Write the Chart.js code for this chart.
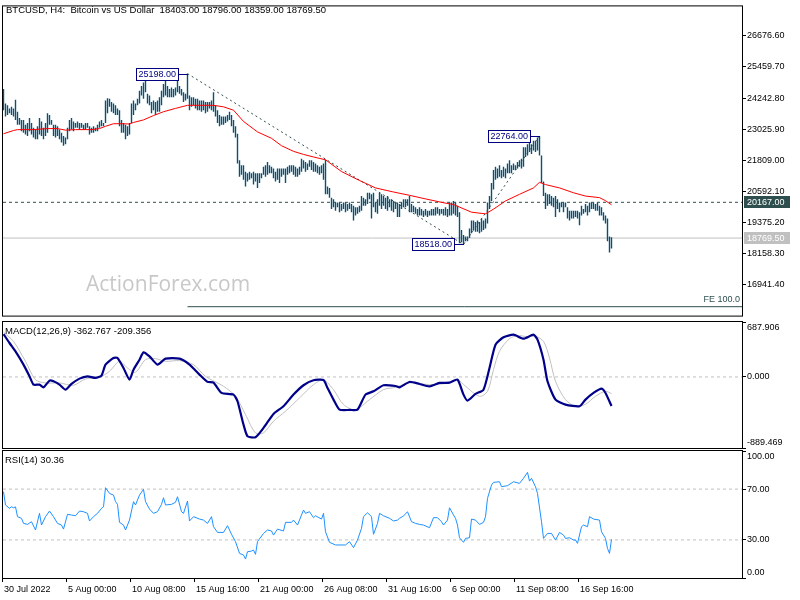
<!DOCTYPE html>
<html>
<head>
<meta charset="utf-8">
<script src="https://cdn.jsdelivr.net/npm/chart.js@4/dist/chart.umd.min.js"></script>
<style>
body { margin: 0; background: #fff; width: 800px; height: 600px; overflow: hidden; position: relative; }
canvas { position: absolute; left: 0; }
#priceCanvas { top: 0; }
#macdCanvas { top: 320px; }
#rsiCanvas { top: 449px; }
</style>
</head>
<body>
<canvas id="priceCanvas" width="800" height="322"></canvas>
<canvas id="macdCanvas" width="800" height="130"></canvas>
<canvas id="rsiCanvas" width="800" height="151"></canvas>
<script>
// BTCUSD H4 bars, index 0 = 30 Jul 2022 16:00
const barHigh = [
  24600,24030,23960,23840,23900,23840,24180,23710,23460,23390,
  23390,23200,23270,23460,23270,23080,23010,23140,23460,23330,
  23080,23270,23650,23580,23390,23200,23200,23140,23010,22890,
  22760,22700,23080,23390,23460,23330,23270,23330,23270,23270,
  23200,23270,23270,23140,23080,23140,23080,23200,23330,23390,
  23270,24150,24240,24220,24090,24030,23960,23840,23770,23390,
  23270,23200,23140,23270,24030,24150,24030,24220,24530,24720,
  24850,24920,24410,24340,24090,24150,24090,24150,24280,24530,
  24790,24920,24720,24600,24660,24600,24660,25100,24720,24600,
  24470,24410,25198,24340,24280,24280,24220,24220,24150,24150,
  24150,24090,24090,24090,24150,24470,23960,23770,23580,23520,
  23520,23520,23580,23710,23580,23390,23140,22850,21810,21620,
  21620,21360,21300,21360,21300,21360,21300,21300,21300,21300,
  21560,21620,21740,21620,21560,21490,21360,21490,21490,21490,
  21490,21490,21560,21620,21620,21620,21560,21490,21560,21870,
  21810,21740,21680,21810,21810,21740,21680,21620,21560,21620,
  21680,21830,20790,20730,20350,20290,20160,20160,20160,20100,
  20160,20160,20100,20160,20100,20030,19970,19970,20030,20410,
  20350,20290,20540,20540,20480,20540,20160,20290,20540,20480,
  20410,20350,20410,20290,20290,20220,20160,20160,20100,20160,
  20290,20290,20290,20410,20100,20030,19970,19910,19970,19910,
  19840,19910,19840,19840,19910,19910,19970,19970,19910,19910,
  19910,19970,19910,20160,20160,20220,20160,20030,19780,19080,
  18890,18830,18830,19140,19460,19460,19400,19460,19400,19530,
  19460,19530,20160,20410,20920,21430,21560,21490,21620,21430,
  21560,21490,21680,21810,21620,21680,21620,21740,21810,21870,
  22320,22320,22440,22510,22440,22570,22570,22700,22764,22000,
  20980,20540,20480,20480,20410,20350,20410,20290,20160,20160,
  20160,20160,19970,19840,19840,19840,19840,19840,19780,20030,
  19910,20100,20030,20160,20160,20160,20100,20160,20030,19970,
  19780,19650,19530,18830,18796
];
const barLow = [
  23770,23520,23580,23650,23580,23520,23390,23200,23200,22950,
  22890,22820,22760,22950,22820,22700,22630,22630,22820,22760,
  22630,22760,22890,23200,23200,22760,22700,22760,22630,22510,
  22380,22440,22630,22950,23010,22950,23080,23080,23010,23080,
  23010,23010,23080,22820,22890,22890,22950,22950,23080,23140,
  23140,23270,23650,23900,23710,23650,23580,23580,23140,22890,
  22890,22630,22760,22820,23270,23580,23770,23960,24030,24340,
  24220,24470,24030,23960,23650,23770,23580,23710,23710,23960,
  24280,24340,24280,24280,24280,24280,24340,24470,24410,24340,
  24090,24150,24220,23770,23900,23960,23840,23770,23770,23710,
  23770,23650,23710,23840,23770,23710,23520,23270,23140,23200,
  23200,23270,23330,23390,23140,22890,22700,21680,21170,21240,
  21050,20790,20980,21050,21110,20860,20980,20730,20920,21110,
  21240,21170,21240,21300,21300,21110,20980,21050,20920,21170,
  21240,20920,21240,21300,21360,21240,21170,21170,21240,21360,
  21490,21360,21430,21560,21430,21360,21360,21300,21240,21300,
  21050,20480,20480,20350,19910,19970,19840,19970,19780,19840,
  19910,19780,19840,19910,19780,19460,19650,19720,19780,19840,
  20030,20030,20100,20290,19530,19970,19780,19720,20030,19910,
  20030,19910,19840,19970,19840,19780,19910,19590,19590,19910,
  19970,19970,20030,19780,19780,19780,19720,19650,19650,19650,
  19590,19650,19590,19650,19650,19650,19650,19720,19650,19720,
  19650,19650,19590,19650,19650,19720,19650,19590,18570,18600,
  18518,18640,18640,18770,18960,19080,19020,19020,18960,19020,
  19080,19140,19340,19910,20220,20670,21050,21110,21170,21110,
  21170,21110,21300,21300,21300,21430,21430,21490,21560,21490,
  21560,21940,22000,22130,22060,22190,22130,22190,22000,20920,
  20410,19910,20030,20100,20030,19970,19590,19910,19780,19970,
  19780,19970,19530,19460,19530,19530,19590,19530,19270,19650,
  19720,19780,19650,19780,19910,19910,19840,19840,19650,19650,
  19460,19340,18640,18200,18359
];

// moving average (red)
const maIdx = [0,5,7,15,22,27,31,36,44,48,51,55,59,63,65,70,75,80,86,92,99,105,110,115,120,127,134,139,145,150,155,161,169,178,186,195,203,211,220,225,228,234,241,245,251,258,265,268,271,278,285,291,298,301,304];
const maVal = [22850,22975,23010,23010,23050,23050,22990,23010,23010,23050,23140,23240,23240,23230,23290,23390,23560,23710,23840,23960,23960,23960,23900,23770,23330,22920,22670,22380,22160,22040,21940,21830,21370,21020,20730,20570,20440,20300,20150,20080,19980,19780,19716,19900,20220,20480,20730,20950,20860,20730,20540,20410,20350,20230,20070];

// fibonacci expansion points and levels
const fibIdx = [92, 230, 268];
const fibVal = [25198, 18518, 22764];
const feLevel = 16084;
const levelLine = 20167;
const lastPrice = 18769.5;
const priceTicks = [16941.40, 18158.30, 19375.20, 20592.10, 21809.00, 23025.90, 24242.80, 25459.70, 26676.60];

// MACD(12,26,9)
const macdIdx = [0,3,6,10,13,15,18,20,23,25,28,31,34,38,42,46,49,51,55,57,60,63,65,68,70,73,77,81,88,93,98,102,105,109,115,117,120,122,126,130,135,140,145,150,155,160,162,165,168,173,177,181,185,190,196,198,203,208,213,218,223,227,230,232,236,240,243,246,250,255,260,265,267,270,272,276,281,288,291,295,299,301,304];
const macdVal = [537,425,320,154,8,-96,-96,-130,-46,-54,-96,-159,-88,-21,8,-12,17,154,237,237,112,-34,91,216,308,258,154,229,229,154,29,-62,-71,-200,-221,-304,-596,-742,-754,-638,-463,-367,-221,-104,-42,-38,-138,-284,-409,-413,-409,-221,-180,-104,-113,-130,-63,-88,-117,-75,-71,-34,-221,-296,-213,-159,112,404,496,529,479,529,467,216,-54,-284,-346,-367,-284,-200,-146,-200,-363];
const signalIdx = [0,5,11,16,21,28,35,41,48,53,58,62,66,71,76,81,88,95,101,110,116,121,126,130,135,141,148,155,160,165,170,176,183,190,196,203,213,223,227,231,238,242,245,248,253,257,262,266,270,273,276,281,286,291,296,301,304];
const signalVal = [560,445,195,-34,-75,-75,-104,-25,-4,71,196,112,60,216,229,196,204,154,8,-117,-242,-471,-700,-700,-554,-429,-263,-96,-38,-159,-346,-409,-284,-159,-130,-71,-96,-75,-34,-117,-242,-179,92,321,479,517,504,508,446,237,-54,-284,-367,-342,-242,-180,-209];
const macdTicks = [687.906, 0, -889.469];

// RSI(14)
const rsiIdx = [0,1,3,4,5,6,7,9,10,12,14,16,18,19,21,23,25,27,29,30,32,34,36,38,40,42,43,45,47,49,50,51,53,55,56,57,58,60,61,63,65,66,68,70,71,73,75,77,79,80,81,84,86,87,89,90,92,93,95,98,100,102,104,105,107,110,112,114,116,118,120,121,122,124,125,126,127,130,132,134,135,137,140,141,144,145,147,150,151,153,155,156,159,160,161,163,166,171,173,175,177,179,180,182,184,185,187,188,190,193,195,197,198,200,202,204,206,208,210,213,215,217,219,220,222,223,225,226,227,228,230,231,233,234,236,238,240,241,242,244,245,248,249,252,255,258,260,262,263,264,266,267,269,270,272,274,276,278,280,281,283,285,286,287,289,290,292,293,295,298,299,301,302,303,304];
const rsiVal = [68,57.5,54.8,56.1,55.3,56,48.3,47,43,42.2,44.3,37.8,50.9,41.7,48.3,52.7,48.3,43,41.7,38.5,50.1,49.6,49,52.7,52.2,50.9,44.9,48.3,50.9,54.8,56.1,71.1,66.6,65.3,60.1,58,43.8,41.7,37.8,45.6,60.1,57.5,65.3,69.8,60.1,54.3,50.9,52.2,58,63.2,57.5,58,59.6,64,52.2,50.9,60.6,44.9,48.3,46.4,45.6,43,48.3,40.4,35.9,35.9,41.2,34.4,28.6,19.4,18.1,14.9,20.7,21.2,22,18.6,28.6,35.1,37.8,37,33.8,38.5,37,43.8,43.8,45.6,41.7,53.5,50.9,52.2,47.5,49,46.4,50.9,36.4,28.1,26,26,28.6,23.9,29.9,39.1,48.3,51.4,48.3,34.4,43,50.9,49,47,44.9,45.6,47,48.8,52.2,44.3,43,42.2,41.7,39.6,47.5,47.5,44.3,41.7,45.6,55.3,49.6,47,41.7,31.7,28.1,31.2,31.7,46.4,45.6,42.2,43.8,48.3,62.7,73.2,75.3,75.8,71.9,72.7,75.8,74.5,78.5,83.2,76.3,78.5,71.9,66.6,44.3,31.2,35.1,35.1,29.9,35.9,33.8,31.2,31.7,29.9,29.9,27.3,40.4,41.7,40.4,48.3,46.4,45.6,36.4,31.2,23.3,19.4,30.36];
const rsiTicks = [100, 70, 30, 0];
const rsiLevels = [70, 30];

// time axis
const dateTickIdx = [0, 32, 64, 96, 128, 160, 192, 224, 256, 288];
const dateTickLabels = ['30 Jul 2022', '5 Aug 00:00', '10 Aug 08:00', '15 Aug 16:00', '21 Aug 00:00', '26 Aug 08:00', '31 Aug 16:00', '6 Sep 00:00', '11 Sep 08:00', '16 Sep 16:00'];

const X_MIN = -0.25, X_MAX = 369.25;
const FONT = 'Liberation Sans';
Chart.defaults.font.family = FONT;
Chart.defaults.font.size = 9;
Chart.defaults.color = '#000';

const pts = (xs, ys) => xs.map((x, k) => ({ x: x, y: ys[k] }));
const hline = v => [{ x: X_MIN, y: v }, { x: X_MAX, y: v }];

// black frame around each panel
const framePlugin = {
  id: 'frame',
  afterDraw(chart) {
    const a = chart.chartArea, c = chart.ctx;
    c.save();
    c.strokeStyle = '#000';
    c.lineWidth = 1;
    c.strokeRect(a.left - 0.5, a.top - 0.5, a.right - a.left + 1, a.bottom - a.top + 1);
    c.restore();
  }
};

function xHidden() {
  return { type: 'linear', min: X_MIN, max: X_MAX, offset: false, display: false };
}

function yRight(min, max, extra) {
  return Object.assign({
    type: 'linear', position: 'right', min: min, max: max,
    grid: { drawOnChartArea: false, color: '#000', tickLength: 4 },
    border: { display: false },
    afterFit: s => { s.width = 58; }
  }, extra);
}

const baseOpts = {
  responsive: false,
  animation: false,
  events: [],
  plugins: { legend: { display: false }, tooltip: { enabled: false } }
};

// ---------- price panel ----------
const pricePlugin = {
  id: 'priceExtras',
  beforeDatasetsDraw(chart) {
    const c = chart.ctx;
    c.save();
    c.font = '21px "Open Sans"';
    c.fillStyle = '#c8c8c8';
    c.textBaseline = 'alphabetic';
    c.fillText('ActionForex.com', 86, 291);
    c.restore();
  },
  afterDraw(chart) {
    const c = chart.ctx, xs = chart.scales.x, ys = chart.scales.y;
    c.save();
    c.font = '9.5px ' + FONT;
    c.textBaseline = 'middle';
    c.fillStyle = '#000';
    c.fillText('BTCUSD, H4:  Bitcoin vs US Dollar  18403.00 18796.00 18359.00 18769.50', 6, 10);

    // swing labels
    c.font = '9px ' + FONT;
    fibIdx.forEach((i, k) => {
      const px = Math.round(xs.getPixelForValue(i));
      const py = Math.round(ys.getPixelForValue(fibVal[k])) + 0.5;
      const txt = fibVal[k].toFixed(2);
      const w = Math.round(c.measureText(txt).width) + 4, h = 12;
      const bx = px - 10 - w;
      c.fillStyle = '#fff';
      c.fillRect(bx, py - h / 2, w, h);
      c.strokeStyle = '#000080';
      c.lineWidth = 1;
      c.strokeRect(bx + 0.5, py - h / 2, w, h);
      c.beginPath();
      c.moveTo(bx + w, py);
      c.lineTo(px, py);
      c.stroke();
      c.fillStyle = '#000080';
      c.fillText(txt, bx + 2.5, py + 0.5);
    });

    // FE label
    c.fillStyle = '#2f4f4f';
    c.textAlign = 'right';
    c.fillText('FE 100.0', chart.chartArea.right - 2, ys.getPixelForValue(feLevel) - 7);
    c.textAlign = 'left';

    // price boxes on the axis
    [[levelLine, '#2f4f4f'], [lastPrice, '#c0c0c0']].forEach(([v, bg]) => {
      const py = Math.round(ys.getPixelForValue(v));
      c.fillStyle = bg;
      c.fillRect(744, py - 6, 46, 12);
      c.fillStyle = '#fff';
      c.fillText(v.toFixed(2), 747, py + 0.5);
    });
    c.restore();
  }
};

new Chart(document.getElementById('priceCanvas'), {
  type: 'bar',
  data: {
    datasets: [
      { type: 'line', data: pts(maIdx, maVal), borderColor: '#ff0000', borderWidth: 1, pointRadius: 0, order: 0 },
      { type: 'line', data: pts(fibIdx, fibVal), borderColor: '#2f4f4f', borderWidth: 1, borderDash: [2, 3], pointRadius: 0, order: 1 },
      { type: 'bar', data: barHigh.map((h, i) => ({ x: i, y: [barLow[i], h] })), backgroundColor: '#0a4f75', barThickness: 1.4, borderWidth: 0, inflateAmount: 0, order: 2 },
      { type: 'line', data: hline(levelLine), borderColor: '#2f4f4f', borderWidth: 1, borderDash: [3, 3], pointRadius: 0, order: 3 },
      { type: 'line', data: hline(lastPrice), borderColor: '#c0c0c0', borderWidth: 1, pointRadius: 0, order: 3 },
      { type: 'line', data: [{ x: fibIdx[0], y: feLevel }, { x: X_MAX, y: feLevel }], borderColor: '#2f4f4f', borderWidth: 1, pointRadius: 0, order: 3 }
    ]
  },
  options: Object.assign({}, baseOpts, {
    layout: { padding: { left: 3, top: 2, right: 0, bottom: 2 } },
    scales: {
      x: xHidden(),
      y: yRight(15736, 27829, {
        afterBuildTicks: s => { s.ticks = priceTicks.map(v => ({ value: v })); },
        ticks: { padding: 1, callback: v => v.toFixed(2) }
      })
    }
  }),
  plugins: [framePlugin, pricePlugin]
});

// sub-window tick labels (top label sits below the edge, bottom label above)
function subLabels(id, title, values, decimals) {
  return {
    id: id,
    afterDraw(chart) {
      const c = chart.ctx, s = chart.scales.y, a = chart.chartArea;
      c.save();
      c.fillStyle = '#000';
      c.textBaseline = 'middle';
      c.font = '9.5px ' + FONT;
      c.fillText(title, 5, a.top + 9);
      c.font = '9px ' + FONT;
      values.forEach(v => {
        let y = s.getPixelForValue(v);
        if (v === s.max) y += 6;
        else if (v === s.min) y -= 5;
        c.fillText(v.toFixed(decimals), 747, y);
      });
      c.restore();
    }
  };
}

// ---------- MACD panel ----------
new Chart(document.getElementById('macdCanvas'), {
  type: 'line',
  data: {
    datasets: [
      { data: pts(macdIdx, macdVal), borderColor: '#00008b', borderWidth: 2.2, pointRadius: 0, tension: 0.2, order: 0 },
      { data: pts(signalIdx, signalVal), borderColor: '#c0c0c0', borderWidth: 1, pointRadius: 0, tension: 0.3, order: 1 },
      { data: hline(0), borderColor: '#c0c0c0', borderWidth: 1, borderDash: [3, 3], pointRadius: 0, order: 2 }
    ]
  },
  options: Object.assign({}, baseOpts, {
    layout: { padding: { left: 3, top: 2, right: 0, bottom: 2 } },
    scales: {
      x: xHidden(),
      y: yRight(macdTicks[2], macdTicks[0], {
        afterBuildTicks: s => { s.ticks = macdTicks.map(v => ({ value: v })); },
        ticks: { display: false }
      })
    }
  }),
  plugins: [framePlugin, subLabels('macdLabels', 'MACD(12,26,9) -362.767 -209.356', macdTicks, 3)]
});

// ---------- RSI panel ----------
new Chart(document.getElementById('rsiCanvas'), {
  type: 'line',
  data: {
    datasets: [
      { data: pts(rsiIdx, rsiVal), borderColor: '#1e90ff', borderWidth: 1, pointRadius: 0, order: 0 },
      { data: hline(rsiLevels[0]), borderColor: '#c0c0c0', borderWidth: 1, borderDash: [3, 3], pointRadius: 0, order: 1 },
      { data: hline(rsiLevels[1]), borderColor: '#c0c0c0', borderWidth: 1, borderDash: [3, 3], pointRadius: 0, order: 1 }
    ]
  },
  options: Object.assign({}, baseOpts, {
    layout: { padding: { left: 3, top: 2, right: 0, bottom: 0 } },
    scales: {
      x: {
        type: 'linear', min: X_MIN, max: X_MAX, offset: false,
        grid: { drawOnChartArea: false, color: '#000', tickLength: 4 },
        border: { display: false },
        afterBuildTicks: s => { s.ticks = dateTickIdx.map(v => ({ value: v - 0.75 })); },
        afterFit: s => { s.height = 22; },
        ticks: {
          align: 'start', labelOffset: 2, padding: 2, autoSkip: false, maxRotation: 0,
          callback: (v, k) => dateTickLabels[k]
        }
      },
      y: yRight(0, 100, {
        afterBuildTicks: s => { s.ticks = rsiTicks.map(v => ({ value: v })); },
        ticks: { display: false }
      })
    }
  }),
  plugins: [framePlugin, subLabels('rsiLabels', 'RSI(14) 30.36', rsiTicks, 2)]
});
</script>
</body>
</html>
